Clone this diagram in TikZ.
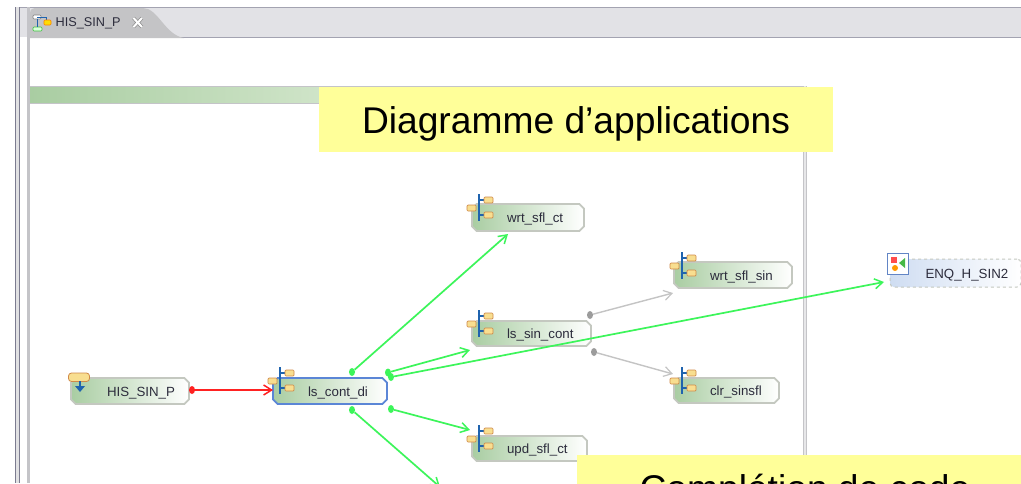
\documentclass[tikz,border=0pt]{standalone}
\usepackage{fontspec}
\setmainfont{Liberation Sans}
\usetikzlibrary{arrows.meta,shapes.misc,shapes.geometric,calc}
\definecolor{tabbar}{HTML}{E2E2E6}
\definecolor{tabsel}{HTML}{C4C4C6}
\definecolor{frameg}{HTML}{C4C4C8}
\definecolor{framed}{HTML}{7C7C90}
\definecolor{boxg}{HTML}{C4C8C0}
\definecolor{boxl}{HTML}{A9CDA2}
\definecolor{bandr}{HTML}{CFE4C8}
\definecolor{selblue}{HTML}{5B86D6}
\definecolor{iconblue}{HTML}{1F63AE}
\definecolor{icony}{HTML}{F8DE90}
\definecolor{icono}{HTML}{D08A48}
\definecolor{conngreen}{HTML}{3CF55A}
\definecolor{connred}{HTML}{FF2222}
\definecolor{conngray}{HTML}{C4C4C4}
\definecolor{dotgray}{HTML}{9C9C9C}
\definecolor{notey}{HTML}{FFFF99}
\definecolor{txtc}{HTML}{2C2C3C}
\definecolor{extblue}{HTML}{CFDDF2}
\newcommand{\lbl}[3]{\makebox[\dimexpr#1pt-10pt\relax][l]{\hspace*{\dimexpr#2pt-5pt\relax}\raisebox{-2pt}{\fontsize{13.3}{15}\selectfont\color{txtc}#3}}}
\tikzset{
  x=1pt,y=-1pt,
  appbox/.style={chamfered rectangle,chamfered rectangle xsep=2.3pt,chamfered rectangle ysep=2.3pt,chamfered rectangle corners={north east,south east,north west,south west},draw=boxg,line width=1.8pt,left color=boxl,right color=white,inner sep=0pt,text height=9pt,text depth=3pt},
  selbox/.style={appbox,draw=selblue},
  extbox/.style={rectangle,rounded corners=4pt,draw=boxg,dashed,line width=1pt,left color=extblue,right color=white,inner sep=0pt,text height=9pt,text depth=3pt},
  greenconn/.style={line width=1.7pt,draw=conngreen,-{Straight Barb[length=8pt,width=10pt,line width=1.5pt]}},
  redconn/.style={line width=1.7pt,draw=connred,-{Straight Barb[length=8pt,width=10pt,line width=1.5pt]}},
  grayconn/.style={line width=1.4pt,draw=conngray,-{Straight Barb[length=8pt,width=10pt,line width=1.2pt]}},
  dot/.style={draw=none,ellipse,inner sep=0pt,minimum width=6pt,minimum height=8pt},
  graydot/.style={dot,fill=dotgray},
  greendot/.style={dot,fill=conngreen},
  reddot/.style={dot,fill=connred},
  note/.style={rectangle,fill=notey,inner sep=0pt,font=\fontsize{37.2}{42}\selectfont,text=black,text height=27pt,text depth=0pt},
  tinybox/.style={draw=icono,fill=icony,line width=0.7pt,rounded corners=1pt},
  appicon/.pic={
    \draw[iconblue,line width=1.2pt] (0,0)--(0,27) (0,6)--(6,6) (0,21)--(6,21);
    \draw[tinybox] (5,3) rectangle (14,9);
    \draw[tinybox] (5,18) rectangle (14,24);
    \draw[tinybox] (-12,11) rectangle (-3,17);
  }
}
\begin{document}
\begin{tikzpicture}
\useasboundingbox (0,0) rectangle (1021,483);
\clip (0,0) rectangle (1021,483);
\fill[white] (0,0) rectangle (1021,483);
% window chrome
\fill[tabbar] (15,7) rectangle (1021,37);
\draw[line width=1pt,framed!70] (15,7.5) -- (1021,7.5);
\draw[line width=1pt,framed!70] (160,37) -- (1021,37);
\fill[tabsel] (30,38) -- (30,14) .. controls (30,9) and (32,8) .. (38,8) -- (143,8) .. controls (158,8) and (165,35) .. (184,38) -- cycle;
\fill[frameg] (27,7) rectangle (30,483);
\fill[framed] (15,7) rectangle (16.2,483);
\fill[framed] (19,7) rectangle (20.2,483);
\fill[frameg!50] (16.2,7) rectangle (19,483);
% tab icon
\draw[line width=0.7pt,draw=gray,fill=white,rounded corners=1pt] (33,15) rectangle (41,19);
\draw[line width=0.7pt,draw=green!50!gray,fill=green!15,rounded corners=1pt] (33,27) rectangle (42,31);
\draw[line width=0.8pt,iconblue] (37,19)--(37,27) (37,17)--(46,17)--(46,20);
\draw[line width=0.6pt,draw=orange,fill=yellow!80!orange,rounded corners=1pt] (44,20) rectangle (51,25);
\node[inner sep=0pt,anchor=west,font=\fontsize{12.7}{14}\selectfont,text=txtc] (tabtitle) at (55.5,23.5) {HIS\_SIN\_P};
% tab close cross
\draw[line width=3.4pt,gray!90] (133.5,18)--(142,27) (142,18)--(133.5,27);
\draw[line width=2pt,white] (133.5,18)--(142,27) (142,18)--(133.5,27);
% compartment
\shade[left color=boxl,right color=bandr] (30,87) rectangle (320,103);
\draw[line width=0.8pt,frameg] (30,86.5) -- (803,86.5) (30,103) -- (320,103);
\fill[frameg!40] (803,86) rectangle (806,483);
\draw[line width=0.9pt,frameg] (803,86) -- (803,483) (806,86) -- (806,483);
% nodes
\node[appbox,minimum width=118pt,minimum height=26pt] (his) at (130,391) {\lbl{118}{36}{HIS\_SIN\_P}};
\node[selbox,minimum width=114pt,minimum height=26pt] (lscont) at (330,391) {\lbl{114}{35}{ls\_cont\_di}};
\node[appbox,minimum width=112pt,minimum height=27pt] (wrt) at (528,217.5) {\lbl{112}{35}{wrt\_sfl\_ct}};
\node[appbox,minimum width=119pt,minimum height=25pt] (lssin) at (531.5,333.5) {\lbl{119}{35}{ls\_sin\_cont}};
\node[appbox,minimum width=118pt,minimum height=26pt] (wrtsin) at (733,275) {\lbl{118}{36}{wrt\_sfl\_sin}};
\node[appbox,minimum width=105pt,minimum height=25pt] (clr) at (726.5,390.5) {\lbl{105}{36}{clr\_sinsfl}};
\node[appbox,minimum width=115pt,minimum height=25pt] (upd) at (529.5,448.5) {\lbl{115}{35}{upd\_sfl\_ct}};
\node[extbox,minimum width=131pt,minimum height=28pt] (enq) at (955.5,273) {\makebox[120pt][l]{\hspace*{30pt}\raisebox{-2pt}{\fontsize{13.3}{15}\selectfont\color{txtc}ENQ\_H\_SIN2}}};
% icons
\pic at (280,367) {appicon};
\pic at (479,194) {appicon};
\pic at (479,310) {appicon};
\pic at (682,252) {appicon};
\pic at (682,367) {appicon};
\pic at (479,425) {appicon};
\draw[draw=icono,fill=icony,line width=0.8pt,rounded corners=3pt] (68.5,373) rectangle (89.5,381.5);
\draw[iconblue,line width=2pt] (80,381)--(80,388);
\fill[iconblue] (75,386)--(85,386)--(80,392)--cycle;
\draw[draw=selblue!80!gray,fill=white,line width=1pt] (887.5,253.5) rectangle (908,274);
\fill[red!70!white] (891,257) rectangle (897,263);
\fill[orange!80!yellow] (895,268) circle (3pt);
\fill[green!45!gray] (905,258)--(905,268)--(899,263)--cycle;
% connector dots
\node[reddot] (dr) at (192,390) {};
\node[greendot] (g1) at (352,372) {};
\node[greendot] (g2) at (388,372.5) {};
\node[greendot] (g3) at (391,377) {};
\node[greendot] (g4) at (391,409) {};
\node[greendot] (g5) at (352,410) {};
\node[graydot] (d1) at (590,315) {};
\node[graydot] (d2) at (594,352) {};
% connectors
\coordinate (offpage) at (440,487);
\draw[redconn] (dr) -- ([shift={(-57,-1)}]lscont.center);
\draw[greenconn] (g1) -- ([shift={(-20,16.5)}]wrt.center);
\draw[greenconn] (g2) -- ([shift={(-61.5,16.5)}]lssin.center);
\draw[greenconn] (g4) -- ([shift={(-59.5,-18.5)}]upd.center);
\draw[greenconn] (g5) -- (offpage);
\draw[grayconn] (d1) -- ([shift={(-60,18)}]wrtsin.center);
\draw[grayconn] (d2) -- ([shift={(-53.5,-16.5)}]clr.center);
\draw[greenconn] (g3) -- ([shift={(-71.5,9)}]enq.center);
% notes
\node[note,minimum width=514pt,minimum height=65pt] (note1) at (576,119.5) {Diagramme d’applications};
\node[note,minimum width=456pt,minimum height=65pt] (note2) at (805,487.5) {Complétion de code};
\end{tikzpicture}
\end{document}
